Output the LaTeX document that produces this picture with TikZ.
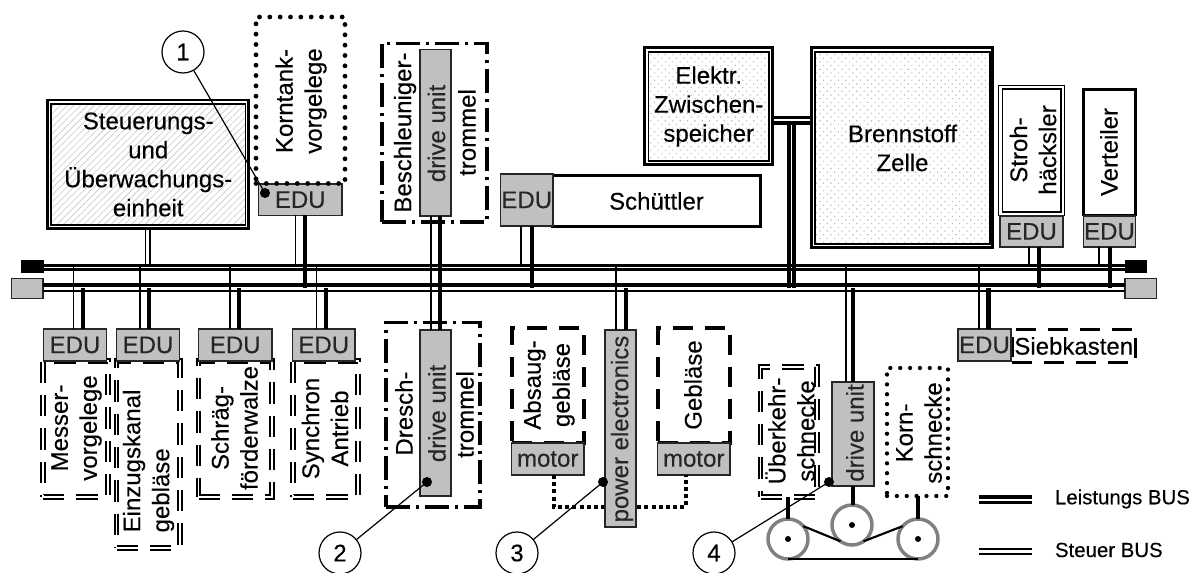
\documentclass[tikz,border=0pt]{standalone}
\usepackage{fontspec}
\setmainfont{Liberation Sans}[FakeBold=0.25]
\usetikzlibrary{patterns.meta}
\definecolor{edugray}{HTML}{C0C0C0}
\definecolor{ringgray}{HTML}{808080}
\newcommand{\bx}[7]{%
  \pgfmathsetmacro{\bxw}{(#5-#3)*0.75}%
  \pgfmathsetmacro{\bxh}{(#6-#4)*0.75}%
  \pgfmathsetmacro{\bxcx}{(#3+#5)/2}%
  \pgfmathsetmacro{\bxcy}{(#4+#6)/2}%
  \node[boxbase,#2,minimum width=\bxw pt,minimum height=\bxh pt] (#1) at (\bxcx,\bxcy) {#7};}
\newcommand{\rot}[4]{\node[rottext] (#1) at (#2,#3) {#4};}
\tikzset{
  boxbase/.style={inner sep=0pt,outer sep=0pt,align=center,font=\mainfnt},
  rottext/.style={rotate=90,inner sep=0pt,outer sep=0pt,align=center,font=\mainfnt},
  edubox/.style={draw=black!85,line width=0.9pt,fill=edugray,text=black!85},
  plainbox/.style={draw=black,line width=2.2pt,fill=white},
  outerlight/.style={draw=black,line width=1.8pt,fill=white},
  outerthin/.style={draw=black,line width=1.3pt,fill=white},
  outerheavy/.style={draw=black,line width=2.6pt,fill=white},
  hatchin/.style={draw=black,line width=0.9pt,pattern={Lines[angle=45,distance=3.6pt,line width=0.45pt]},pattern color=black!22},
  dotin/.style={draw=black,line width=1.3pt,pattern={Dots[angle=45,distance=3.9pt,radius=0.6pt]},pattern color=black!28},
  dblinner/.style={draw=black,line width=1.3pt,fill=white},
  dotbox/.style={draw=black,line width=3.6pt,line cap=round,dash pattern=on 0pt off 7.75pt},
  dotboxsmall/.style={draw=black,line width=3.2pt,line cap=round,dash pattern=on 0pt off 7.4pt},
  dashbox/.style={draw=black,line width=2.4pt,dash pattern=on 15pt off 9pt},
  dbldash/.style={draw=black,line width=1.35pt,double=white,double distance=1.3pt,dash pattern=on 16pt off 9pt},
  dashdot/.style={draw=black,line width=2.4pt,dash pattern=on 18pt off 4.5pt on 2.2pt off 4.5pt},
  steuer/.style={draw=black,line width=1.1pt},
  steuerbus/.style={draw=black,line width=1.6pt},
  leistbus/.style={draw=black,line width=2.3pt},
  power/.style={draw=black,line width=3.2pt},
  dotlink/.style={draw=black,line width=3.2pt,dash pattern=on 3pt off 2.4pt},
  shaft/.style={draw=black,line width=3.2pt},
  belt/.style={draw=black,line width=1.6pt},
  pulley/.style={circle,draw=ringgray,line width=2.6pt,fill=white,minimum size=30pt,inner sep=0pt,outer sep=0pt},
  hub/.style={circle,fill=black,minimum size=4.5pt,inner sep=0pt,outer sep=0pt},
  marker/.style={circle,draw=black,line width=0.9pt,fill=white,minimum size=31.5pt,inner sep=0pt,outer sep=0pt,font=\mainfnt},
  blob/.style={circle,fill=black,minimum size=7.5pt,inner sep=0pt,outer sep=0pt},
  callout/.style={draw=black,line width=0.9pt},
  legendtext/.style={anchor=west,inner sep=0pt,outer sep=0pt,font=\legfnt},
  blackend/.style={fill=black,draw=black,line width=0.5pt,inner sep=0pt,outer sep=0pt},
}
\newcommand{\mainfnt}{\fontsize{18}{21.75}\selectfont}
\newcommand{\legfnt}{\fontsize{15.3}{18}\selectfont}
\begin{document}
\begin{tikzpicture}[x=0.75pt,y=-0.75pt]
\useasboundingbox (0,0) rectangle (1197,573);
% bus end blocks
\bx{bkL}{blackend}{21.5}{260.5}{43}{272}{}
\bx{bkR}{blackend}{1125}{260.5}{1146.5}{272}{}
\bx{gyL}{edubox}{11.5}{278.5}{43}{298.5}{}
\bx{gyR}{edubox}{1125}{278.5}{1156.5}{298.5}{}
% buses
\draw[steuerbus] (bkL.east |- 0,265.5) -- (bkR.west |- 0,265.5);
\draw[steuerbus,line width=2pt] (bkL.east |- 0,269.5) -- (bkR.west |- 0,269.5);
\draw[leistbus,line width=2.6pt] (gyL.east |- 0,285) -- (gyR.west |- 0,285);
\draw[leistbus,line width=2pt] (gyL.east |- 0,291) -- (gyR.west |- 0,291);

% top left
\bx{steu}{outerlight}{47.5}{100}{248.5}{228.5}{}
\bx{steuin}{hatchin}{51}{104}{245.5}{225}{Steuerungs-\\und\\Überwachungs-\\einheit}
\bx{kedu}{edubox}{258.5}{184}{342}{215.5}{EDU}
\bx{korn}{dotbox}{256}{17}{345}{183.5}{}
\rot{korntxt}{301}{101}{Korntank-\\vorgelege}

% lower EDUs
\bx{mess}{dbldash}{43}{361}{108}{497}{}
\bx{einz}{dbldash}{116.5}{361}{180}{548}{}
\bx{schr}{dbldash}{198.5}{361}{272}{497}{}
\bx{sync}{dbldash}{293}{361}{358}{497}{}
\bx{em}{edubox}{43.5}{329}{106.5}{361}{EDU}
\bx{ee}{edubox}{116.5}{329}{179.5}{361}{EDU}
\bx{es}{edubox}{198.5}{329}{272}{361}{EDU}
\bx{ey}{edubox}{292.5}{329}{355}{361}{EDU}
\rot{messtxt}{76.5}{428}{Messer-\\vorgelege}
\node[rottext,align=left] (einztxt) at (148.5,461) {Einzugskanal\\gebläse};
\rot{schrtxt}{234.5}{428}{Schräg-\\förderwalze}
\rot{synctxt}{325}{428.5}{Synchron\\Antrieb}

% drums
\bx{besch}{dashdot}{382}{43.5}{487}{222}{}
\bx{dresch}{dashdot}{386}{322.5}{480}{507}{}
\bx{duu}{edubox}{420}{49.5}{451}{216}{}
\bx{dul}{edubox}{420}{330}{451}{496}{}
\rot{beschtxt}{405}{132.5}{Beschleuniger-}
\rot{duutxt}{436.5}{133.5}{\color{black!85}drive unit}
\rot{trou}{467}{132.5}{trommel}
\rot{dreschtxt}{404}{413.5}{Dresch-}
\rot{dultxt}{437}{413.5}{\color{black!85}drive unit}
\rot{trol}{465}{414.5}{trommel}

% Schuettler
\bx{schutt}{plainbox}{552.5}{175.5}{760.5}{226.5}{Schüttler}
\bx{esch}{edubox}{500.5}{174}{553}{226}{EDU}

% storage, fuel cell
\bx{elek}{outerheavy}{644.5}{47.5}{772.5}{164.5}{}
\bx{elekin}{dotin}{648.5}{52}{769}{161}{Elektr.\\Zwischen-\\speicher}
\bx{bren}{outerheavy}{811.5}{47.5}{992.5}{247.5}{}
\bx{brenin}{dotin}{815}{52}{990}{244}{Brennstoff\\Zelle}

% Stroh, Verteiler
\bx{stro}{outerthin}{998.5}{85.5}{1064.5}{215.5}{}
\bx{stroin}{dblinner}{1002.5}{89}{1061}{212}{}
\rot{strotxt}{1033}{150}{Stroh-\\häcksler}
\bx{vert}{plainbox}{1083.5}{89.5}{1135.5}{215}{}
\rot{verttxt}{1109}{152}{Verteiler}
\bx{estr}{edubox}{1000}{216}{1063}{247}{EDU}
\bx{ever}{edubox}{1083.5}{216}{1135.5}{247}{EDU}

% Absaug, power electronics, Geblaese
\bx{absa}{dashbox}{512}{328}{584}{443}{}
\bx{gebl}{dashbox}{658}{328}{730}{443}{}
\bx{mot1}{edubox}{511.5}{443}{584}{475}{motor}
\bx{mot2}{edubox}{657.5}{443}{730}{475}{motor}
\draw[dotlink] (mot1.south -| 554,0) -- (554,507) -- (686,507) -- (mot2.south -| 686,0);
\bx{pow}{edubox}{605}{330}{636}{527}{}
\rot{powtxt}{622}{429}{\color{black!85}power electronics}
\rot{abstxt}{549}{385}{Absaug-\\gebläse}
\rot{gebtxt}{693}{385}{Gebläse}

% Siebkasten
\bx{sieb}{dashbox}{1012}{329.5}{1135.5}{362.5}{Siebkasten}
\bx{esie}{edubox}{958}{329}{1011}{361}{EDU}

% Ueberkehr, drive unit, Korn
\bx{ueber}{dbldash}{760.5}{367}{817}{497}{}
\bx{kschn}{dotboxsmall}{887}{368}{948}{496}{}
\bx{du4}{edubox}{832}{382}{874}{486}{}
\rot{uebtxt}{790}{431}{Überkehr-\\schnecke}
\rot{du4txt}{855}{433}{\color{black!85}drive unit}
\rot{korntx2}{919}{433}{Korn-\\schnecke}

% stubs to the buses
\foreach \n/\a/\b in {em/73.5/83,ee/140/149,es/230/239,ey/316.5/326}{
  \draw[steuer] (\n.north -| \a,0) -- (bkL.center -| \a,0);
  \draw[power] (\n.north -| \b,0) -- (gyL.center -| \b,0);
}
\draw[steuer] (steu.south -| 145.7,0) -- (bkL.center -| 145.7,0);
\draw[steuer] (steu.south -| 150,0) -- (bkL.center -| 150,0);
\draw[steuer] (kedu.south -| 295.5,0) -- (bkL.center -| 295.5,0);
\draw[power] (kedu.south -| 305,0) -- (gyL.center -| 305,0);
\draw[steuer] (duu.south -| 431,0) -- (dul.north -| 431,0);
\draw[power] (duu.south -| 440,0) -- (dul.north -| 440,0);
\draw[steuer] (esch.south -| 521,0) -- (bkL.center -| 521,0);
\draw[power] (esch.south -| 532,0) -- (gyL.center -| 532,0);
\draw[steuer] (pow.north -| 616,0) -- (bkL.center -| 616,0);
\draw[power] (pow.north -| 626,0) -- (gyL.center -| 626,0);
\draw[steuer] (du4.north -| 846,0) -- (bkL.center -| 846,0);
\draw[power] (du4.north -| 853,0) -- (gyL.center -| 853,0);
\draw[steuer] (esie.north -| 979,0) -- (bkL.center -| 979,0);
\draw[power] (esie.north -| 988.5,0) -- (gyL.center -| 988.5,0);
\draw[steuer] (estr.south -| 1029,0) -- (bkR.center -| 1029,0);
\draw[power] (estr.south -| 1039,0) -- (gyR.center -| 1039,0);
\draw[steuer] (ever.south -| 1099,0) -- (bkR.center -| 1099,0);
\draw[power] (ever.south -| 1110,0) -- (gyR.center -| 1110,0);
% storage to fuel cell and bus
\draw[leistbus] (elek.east |- 0,117.5) -- (bren.west |- 0,117.5);
\draw[leistbus] (elek.east |- 0,123) -- (bren.west |- 0,123);
\draw[leistbus] (789,123) -- (gyL.center -| 789,0);
\draw[leistbus] (794,123) -- (gyL.center -| 794,0);

% pulleys
\node[pulley] (p1) at (788,539) {};
\node[pulley] (p2) at (852,525) {};
\node[pulley] (p3) at (918,539) {};
\node[hub] (h1) at (788,539) {};
\node[hub] (h2) at (852,525) {};
\node[hub] (h3) at (918,539) {};
\draw[shaft] (ueber.south -| 788,0) -- (p1.north);
\draw[shaft] (du4.south -| 853,0) -- (p2.north -| 853,0);
\draw[shaft] (kschn.south -| 918,0) -- (p3.north);
\draw[belt] (p1.40) -- (p2.235);
\draw[belt] (p2.305) -- (p3.140);
\draw[belt] (p1.south) -- (p3.south);

% legend
\coordinate (l1a) at (979,497); \coordinate (l1b) at (1032,497);
\coordinate (l2a) at (979,502.5); \coordinate (l2b) at (1032,502.5);
\coordinate (l3a) at (979,549); \coordinate (l3b) at (1032,549);
\coordinate (l4a) at (979,554); \coordinate (l4b) at (1032,554);
\draw[leistbus] (l1a) -- (l1b);
\draw[leistbus] (l2a) -- (l2b);
\draw[steuerbus] (l3a) -- (l3b);
\draw[steuerbus,line width=1.9pt] (l4a) -- (l4b);
\node[legendtext] (lg1) at (1055,499) {Leistungs BUS};
\node[legendtext] (lg2) at (1055,550) {Steuer BUS};

% markers
\node[marker] (c1) at (183,52) {1};
\node[marker] (c2) at (340,553) {2};
\node[marker] (c3) at (517,553) {3};
\node[marker] (c4) at (714,553) {4};
\node[blob] (d1) at (265,193) {};
\node[blob] (d2) at (427,482) {};
\node[blob] (d3) at (603,482) {};
\node[blob] (d4) at (829,482) {};
\draw[callout] (c1) -- (d1.center);
\draw[callout] (c2) -- (d2.center);
\draw[callout] (c3) -- (d3.center);
\draw[callout] (c4) -- (d4.center);
\end{tikzpicture}
\end{document}
